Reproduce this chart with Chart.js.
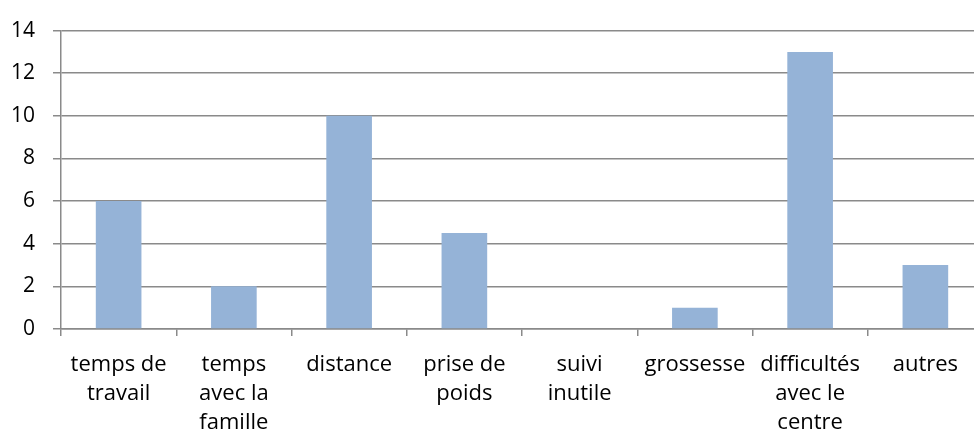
<!DOCTYPE html>
<html>
<head>
<meta charset="utf-8">
<script src="https://cdn.jsdelivr.net/npm/chart.js@4/dist/chart.umd.min.js"></script>
<style>
    html, body { margin: 0; padding: 0; overflow: hidden; background: #fff; }
    #wrap { position: relative; width: 983px; height: 438px; }
</style>
</head>
<body>
<div id="wrap"><canvas id="raisonsChart"></canvas></div>
<script>
let categories = [
    ['temps de', 'travail'],
    ['temps', 'avec la', 'famille'],
    'distance',
    ['prise de', 'poids'],
    ['suivi', 'inutile'],
    'grossesse',
    ['difficultés', 'avec le', 'centre'],
    'autres'
];
let values = [6, 2, 10, 4.5, 0, 1, 13, 3];
let yTicks = [0, 2, 4, 6, 8, 10, 12, 14];

document.addEventListener("DOMContentLoaded", function () {
    let gridColor = '#8a8a8a';
    let ctx = document.getElementById('raisonsChart').getContext('2d');

    new Chart(ctx, {
        type: 'bar',
        data: {
            labels: categories,
            datasets: [{
                data: values,
                backgroundColor: '#95B3D7',
                borderWidth: 0,
                categoryPercentage: 1,
                barPercentage: 0.396
            }]
        },
        options: {
            responsive: true,
            maintainAspectRatio: false,
            animation: false,
            layout: { padding: { top: 27, left: 0, right: 0, bottom: 0 } },
            plugins: {
                legend: { display: false },
                tooltip: { enabled: false }
            },
            scales: {
                x: {
                    offset: true,
                    grid: {
                        offset: true,
                        drawOnChartArea: false,
                        drawTicks: true,
                        tickLength: 7,
                        color: gridColor,
                        lineWidth: 1.5
                    },
                    border: { color: gridColor, width: 1.5 },
                    ticks: {
                        color: '#000',
                        padding: 14,
                        maxRotation: 0,
                        autoSkip: false,
                        font: { family: 'Open Sans', size: 22, lineHeight: 1.32 }
                    },
                    afterFit: function (scale) { scale.height = 109; }
                },
                y: {
                    min: 0,
                    max: 14,
                    afterBuildTicks: function (scale) {
                        scale.ticks = yTicks.map(v => ({ value: v }));
                    },
                    grid: {
                        drawTicks: true,
                        tickLength: 8,
                        color: gridColor,
                        lineWidth: 1.5
                    },
                    border: { color: gridColor, width: 1.5 },
                    ticks: {
                        color: '#000',
                        padding: 18,
                        font: { family: 'Open Sans', size: 21 }
                    },
                    afterFit: function (scale) { scale.width = 61; }
                }
            }
        }
    });
});
</script>
</body>
</html>
